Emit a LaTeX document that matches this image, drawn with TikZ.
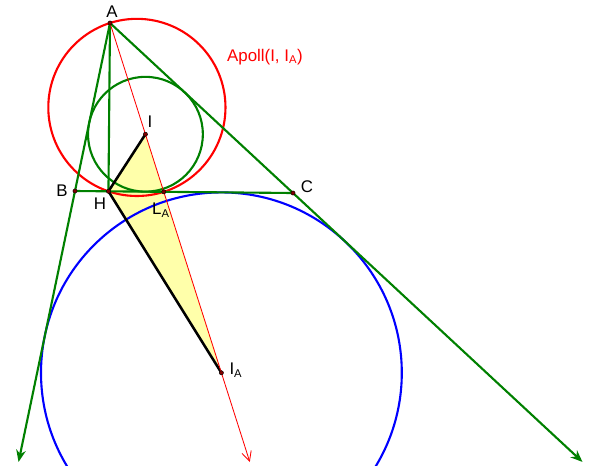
\documentclass[tikz,border=0pt]{standalone}
\usepackage{fontspec}
\setmainfont{Liberation Sans}
\usetikzlibrary{arrows.meta, calc}
\definecolor{ggbgreen}{RGB}{0,128,0}
\definecolor{ggbyellow}{RGB}{255,255,170}
\tikzset{
  side/.style={ggbgreen, line width=1.5pt},
  ray/.style={side, -{Stealth[length=3mm, width=2.4mm]}},
  bisector/.style={red, line width=0.6pt, -{Straight Barb[length=2.4mm, width=2.4mm]}},
  circ/.style={line width=1.5pt},
  seg/.style={black, line width=1.8pt},
  pt/.style={circle, draw=black, fill=red!50!black, line width=0.3pt, inner sep=0pt, minimum size=3pt},
  lbl/.style={font=\fontsize{12}{14}\selectfont, inner sep=1pt},
}

\begin{document}
\begin{tikzpicture}
  \clip (0,0) rectangle (14.8,-11.625);
  % triangle and centres
  \coordinate (A) at (2.75,-0.575);
  \coordinate (B) at (1.875,-4.775);
  \coordinate (C) at (7.325,-4.825);
  \coordinate (I) at (3.636,-3.356);
  \coordinate (IA) at (5.535,-9.32);
  \coordinate (H) at ($(B)!(A)!(C)$);
  \coordinate (LA) at (intersection of A--I and B--C);
  \coordinate (O) at ($(A)!0.5!(LA)$);
  % free ends of the rays
  \coordinate (abEnd) at ($(A)!2.613!(B)$);
  \coordinate (acEnd) at ($(A)!2.582!(C)$);
  \coordinate (redEnd) at ($(A)!1.255!(IA)$);
  % triangle H I IA
  \fill[ggbyellow] (H) -- (I) -- (IA) -- cycle;
  % circles
  \draw[circ, blue] (IA) circle (4.51);
  \draw[circ, ggbgreen] (I) circle (1.435);
  \draw[circ, red] let \p1 = ($(LA)-(A)$), \n1 = {veclen(\x1,\y1)/2} in (O) circle (\n1);
  % sides
  \draw[ray] (A) -- (abEnd);
  \draw[ray] (A) -- (acEnd);
  \draw[side] (B) -- (C);
  \draw[side] (A) -- (H);
  \draw[seg] (I) -- (H) -- (IA);
  \draw[bisector] (A) -- (redEnd);
  % points
  \foreach \p in {A,B,C,H,I,IA,LA}
    \node[pt] (p\p) at (\p) {};
  % labels
  \node[lbl] (nA) at (2.8,-0.3) {A};
  \node[lbl] (nB) at (1.55,-4.775) {B};
  \node[lbl] (nC) at (7.675,-4.675) {C};
  \node[lbl] (nH) at (2.5,-5.1) {H};
  \node[lbl] (nI) at (3.75,-3.05) {I};
  \node[lbl] (nLA) at (4.025,-5.25) {L\textsubscript{A}};
  \node[lbl] (nIA) at (5.9,-9.25) {I\textsubscript{A}};
  \node[lbl, red] (nApoll) at (6.625,-1.425) {Apoll(I, I\textsubscript{A})};
\end{tikzpicture}
\end{document}
